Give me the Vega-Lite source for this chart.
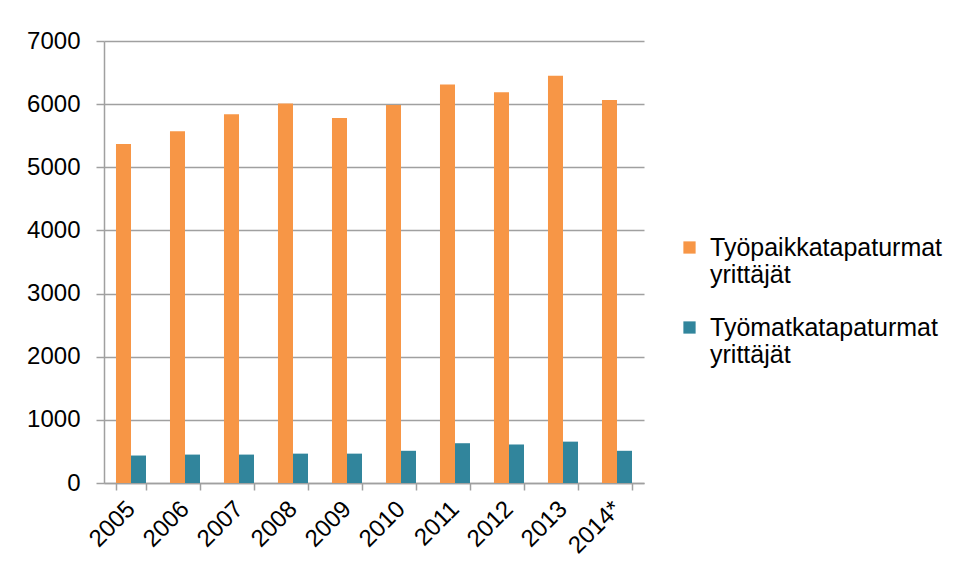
{
  "$schema": "https://vega.github.io/schema/vega-lite/v6.json",
  "width": 540,
  "height": 442,
  "autosize": {"type": "none"},
  "padding": {"left": 104, "top": 41, "right": 310, "bottom": 98},
  "background": "white",
  "config": {"view": {"stroke": null}, "font": "Liberation Sans"},
  "data": {
    "values": [
      {"year": "2005", "series": "Työpaikkatapaturmat yrittäjät", "value": 5370},
      {"year": "2006", "series": "Työpaikkatapaturmat yrittäjät", "value": 5570},
      {"year": "2007", "series": "Työpaikkatapaturmat yrittäjät", "value": 5840},
      {"year": "2008", "series": "Työpaikkatapaturmat yrittäjät", "value": 6010},
      {"year": "2009", "series": "Työpaikkatapaturmat yrittäjät", "value": 5780},
      {"year": "2010", "series": "Työpaikkatapaturmat yrittäjät", "value": 5985},
      {"year": "2011", "series": "Työpaikkatapaturmat yrittäjät", "value": 6310},
      {"year": "2012", "series": "Työpaikkatapaturmat yrittäjät", "value": 6190},
      {"year": "2013", "series": "Työpaikkatapaturmat yrittäjät", "value": 6450},
      {"year": "2014*", "series": "Työpaikkatapaturmat yrittäjät", "value": 6065},
      {"year": "2005", "series": "Työmatkatapaturmat yrittäjät", "value": 435},
      {"year": "2006", "series": "Työmatkatapaturmat yrittäjät", "value": 450},
      {"year": "2007", "series": "Työmatkatapaturmat yrittäjät", "value": 450},
      {"year": "2008", "series": "Työmatkatapaturmat yrittäjät", "value": 465},
      {"year": "2009", "series": "Työmatkatapaturmat yrittäjät", "value": 465},
      {"year": "2010", "series": "Työmatkatapaturmat yrittäjät", "value": 510},
      {"year": "2011", "series": "Työmatkatapaturmat yrittäjät", "value": 630},
      {"year": "2012", "series": "Työmatkatapaturmat yrittäjät", "value": 610},
      {"year": "2013", "series": "Työmatkatapaturmat yrittäjät", "value": 655},
      {"year": "2014*", "series": "Työmatkatapaturmat yrittäjät", "value": 510}
    ]
  },
  "mark": {"type": "bar"},
  "encoding": {
    "x": {
      "field": "year",
      "type": "nominal",
      "sort": null,
      "scale": {"paddingInner": 0.444, "paddingOuter": 0.222},
      "axis": {
        "title": null,
        "labelAngle": -45,
        "labelAlign": "right",
        "labelBaseline": "middle",
        "tickBand": "extent",
        "tickSize": 7,
        "labelFontSize": 24,
        "labelColor": "#000000",
        "labelPadding": 15,
        "domainColor": "#a0a0a0",
        "tickColor": "#a0a0a0",
        "domainWidth": 1.5,
        "tickWidth": 1.5
      }
    },
    "xOffset": {
      "field": "series",
      "sort": ["Työpaikkatapaturmat yrittäjät", "Työmatkatapaturmat yrittäjät"],
      "scale": {"paddingInner": 0, "paddingOuter": 0}
    },
    "y": {
      "field": "value",
      "type": "quantitative",
      "scale": {"domain": [0, 7000]},
      "axis": {
        "title": null,
        "values": [0, 1000, 2000, 3000, 4000, 5000, 6000, 7000],
        "format": "d",
        "grid": true,
        "gridColor": "#a0a0a0",
        "gridWidth": 1.5,
        "tickSize": 8,
        "tickColor": "#a0a0a0",
        "tickWidth": 1.5,
        "domainColor": "#a0a0a0",
        "domainWidth": 1.5,
        "labelFontSize": 24,
        "labelColor": "#000000",
        "labelPadding": 16
      }
    },
    "color": {
      "field": "series",
      "type": "nominal",
      "scale": {
        "domain": ["Työpaikkatapaturmat yrittäjät", "Työmatkatapaturmat yrittäjät"],
        "range": ["#F79646", "#31859C"]
      },
      "legend": {
        "title": null,
        "orient": "none",
        "legendX": 573,
        "legendY": 194,
        "symbolType": "square",
        "symbolSize": 150,
        "symbolStrokeWidth": 0,
        "labelFontSize": 25,
        "labelColor": "#000000",
        "labelLimit": 400,
        "labelOffset": 8,
        "labelExpr": "split(datum.label, ' ')",
        "rowPadding": 27
      }
    }
  }
}
